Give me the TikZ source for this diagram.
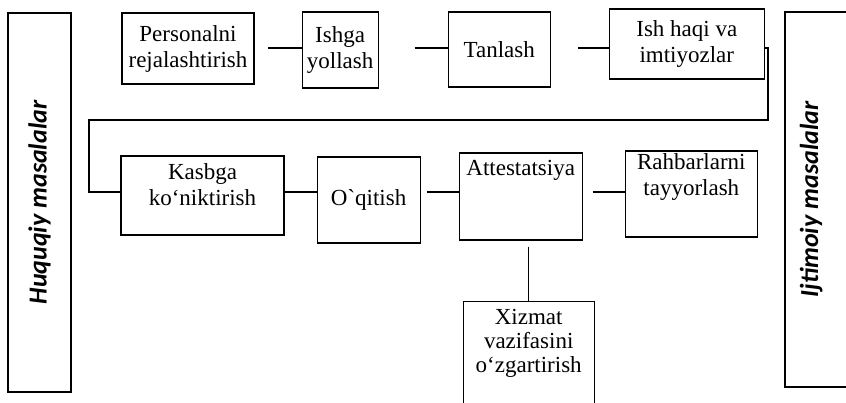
\documentclass[tikz,border=0pt]{standalone}
\usepackage{fontspec}
\setmainfont{Liberation Serif}
\newfontfamily\sidefont{Carlito}
\usetikzlibrary{positioning}

\begin{document}
\begin{tikzpicture}[
    x=1pt, y=-1pt,
    line width=1.1pt,
    every node/.style={font=\fontsize{23}{26}\selectfont},
    hbox/.style={
        rectangle, draw, inner sep=2pt, align=center
    },
    side/.style={
        rectangle, draw, rotate=90, minimum height=63pt,
        font=\sidefont\bfseries\itshape\fontsize{26}{28}\selectfont
    },
]
\useasboundingbox (0,0) rectangle (846,402);

% ── Side panels ────────────────────────────
\node[side, minimum width=379pt] (legal) at (39.5,202.5) {Huquqiy masalalar};
\node[side, minimum width=375pt, minimum height=72pt, text depth=24pt] (social) at (821,199.5) {Ijtimoiy masalalar};

% ── Row 1 ────────────────────────────
\node[hbox, minimum width=132pt, minimum height=71pt] (plan) at (188,48.5) {Personalni\\rejalashtirish};
\node[hbox, minimum width=76pt, minimum height=76pt, right=47pt of plan, yshift=-1.5pt] (hire) {Ishga\\yollash};
\node[hbox, minimum width=102pt, minimum height=75pt, right=69pt of hire, yshift=0.5pt] (select) {Tanlash};
\node[hbox, minimum width=155pt, minimum height=70pt, right=58pt of select, yshift=5.5pt] (pay) {Ish haqi va\\imtiyozlar};

% ── Row 2 ────────────────────────────
\node[hbox, minimum width=163pt, minimum height=79pt, text depth=22pt] (adapt) at (202.5,195.5) {Kasbga\\ko‘niktirish};
\node[hbox, minimum width=103pt, minimum height=86pt, right=32pt of adapt, yshift=-4.5pt] (train) {O\textasciigrave qitish};
\node[hbox, minimum width=123pt, minimum height=87pt, text depth=58pt, right=38pt of train, yshift=3.5pt] (attest) {Attestatsiya};
\node[hbox, minimum width=132pt, minimum height=86pt, text depth=38pt, right=42pt of attest, yshift=2.5pt] (lead) {Rahbarlarni\\tayyorlash};

% ── Row 3 ────────────────────────────
\node[hbox, minimum width=131pt, minimum height=110pt, text depth=30pt, below=60pt of attest, xshift=8pt, font=\fontsize{23}{24}\selectfont] (duty) {Xizmat\\vazifasini\\o‘zgartirish};

% ── Connectors ──────
\coordinate (toprow) at (0,48);
\coordinate (midrow) at (0,192);
\coordinate (turnR) at (768,120);
\coordinate (turnL) at (89,120);

\draw[shorten <=13pt] (plan.east |- toprow) -- (hire.west |- toprow);
\draw[shorten <=36pt] (hire.east |- toprow) -- (select.west |- toprow);
\draw[shorten <=27pt] (select.east |- toprow) -- (pay.west |- toprow);
\draw (pay.east |- toprow) -| (turnR) -- (turnL) |- (adapt.west |- midrow);
\draw (adapt.east |- midrow) -- (train.west |- midrow);
\draw[shorten <=6pt] (train.east |- midrow) -- (attest.west |- midrow);
\draw[shorten <=10pt] (attest.east |- midrow) -- (lead.west |- midrow);
\draw[shorten <=6pt] (attest.south -| duty.north) -- (duty.north);

\end{tikzpicture}
\end{document}
